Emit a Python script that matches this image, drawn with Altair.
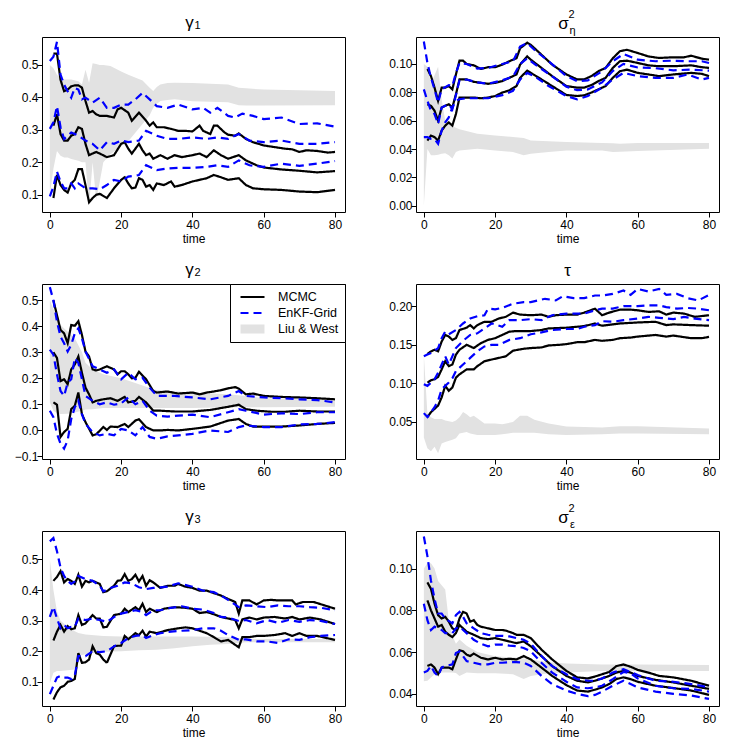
import altair as alt
import pandas as pd

METHODS = ["MCMC", "EnKF-Grid", "Liu & West"]
COLORS = ["#000000", "#0000ff", "#e2e2e2"]
DASHES = [[1, 0], [8, 5], [1, 0]]
WIDTHS = [2.2, 2.2, 9]
X_TICKS = [0, 20, 40, 60, 80]
BAND_COLOR = "#e2e2e2"

# ---------------- gamma_1 ----------------
G1_MCMC_HI = [(1,.535),(2,.535),(3,.454),(4,.419),(5,.424),(6,.434),(7,.437),(8,.437),(9,.43),(10,.389),(11,.353),(12,.358),(13,.348),(14,.343),(16,.343),(18,.338),(19,.363),(20,.368),(22,.353),(23,.328),(25,.353),(27,.328),(28,.313),(29,.323),(30,.308),(32,.308),(34,.303),(36,.297),(38,.297),(40,.295),(42,.313),(43,.297),(45,.287),(46,.313),(47,.313),(49,.292),(50,.285),(52,.282),(53,.289),(55,.272),(57,.262),(60,.252),(63,.247),(66,.242),(68,.24),(70,.232),(72,.237),(75,.235),(78,.23),(80,.232)]
G1_MCMC_MID = [(1,.313),(2,.348),(3,.287),(4,.267),(5,.267),(6,.282),(7,.287),(8,.308),(9,.303),(10,.257),(11,.222),(12,.227),(13,.232),(14,.227),(16,.216),(18,.222),(20,.257),(21,.262),(22,.242),(23,.227),(25,.257),(26,.237),(27,.222),(28,.227),(29,.211),(31,.222),(33,.211),(35,.222),(37,.216),(40,.222),(42,.227),(44,.216),(46,.237),(48,.222),(50,.211),(53,.222),(55,.206),(58,.191),(60,.184),(65,.178),(70,.174),(75,.169),(80,.173)]
G1_MCMC_LO = [(1,.09),(2,.161),(3,.13),(4,.115),(5,.107),(6,.135),(7,.146),(8,.179),(9,.179),(10,.13),(11,.077),(12,.09),(13,.1),(14,.103),(16,.09),(18,.12),(20,.146),(21,.154),(22,.135),(23,.12),(24,.122),(25,.151),(26,.146),(27,.125),(28,.13),(29,.115),(30,.135),(32,.13),(34,.141),(35,.125),(37,.13),(40,.141),(42,.146),(44,.151),(46,.161),(48,.154),(50,.146),(53,.151),(55,.13),(57,.12),(60,.117),(65,.115),(70,.11),(75,.108),(80,.115)]
G1_ENKF_HI = [(0,.512),(1,.525),(2,.571),(3,.47),(4,.439),(5,.419),(6,.399),(7,.429),(8,.424),(9,.394),(10,.399),(12,.384),(14,.399),(16,.368),(18,.368),(20,.378),(22,.378),(24,.394),(26,.414),(28,.394),(30,.373),(33,.368),(36,.378),(40,.363),(43,.368),(45,.353),(47,.368),(50,.343),(52,.338),(54,.35),(57,.343),(60,.333),(65,.338),(70,.318),(75,.32),(80,.31)]
G1_ENKF_MID = [(0,.303),(1,.323),(2,.373),(3,.308),(4,.272),(5,.282),(6,.292),(7,.287),(8,.282),(10,.267),(12,.257),(14,.237),(16,.262),(18,.257),(20,.267),(22,.262),(25,.267),(27,.297),(30,.282),(33,.272),(36,.272),(40,.277),(44,.272),(47,.277),(50,.272),(53,.287),(56,.267),(60,.262),(65,.267),(70,.257),(75,.257),(80,.262)]
G1_ENKF_LO = [(0,.095),(1,.125),(2,.171),(3,.141),(4,.12),(5,.12),(6,.135),(7,.12),(8,.135),(10,.12),(12,.12),(14,.117),(16,.13),(18,.146),(20,.141),(22,.156),(25,.161),(27,.191),(30,.176),(33,.181),(36,.183),(40,.183),(44,.186),(47,.191),(50,.186),(53,.206),(56,.191),(60,.186),(65,.196),(70,.189),(75,.196),(80,.204)]
G1_BAND_T = [0,1,2,3,4,5,6,8,9,10,11,12,13,14,15,17,20,22,26,28,29,30,31,33,35,40,50,53,55,60,80]
G1_BAND_HI = [.50,.49,.47,.46,.455,.455,.455,.45,.44,.485,.445,.505,.503,.50,.50,.497,.48,.47,.452,.43,.42,.432,.44,.444,.445,.444,.44,.43,.428,.424,.42]
G1_BAND_LO = [.10,.18,.235,.22,.215,.215,.21,.205,.20,.20,.065,.20,.085,.14,.20,.225,.25,.265,.318,.345,.368,.38,.389,.392,.394,.388,.385,.376,.375,.375,.376]

# ---------------- sigma^2_eta ----------------
SE_MCMC_HI = [(1,.0965),(2,.0914),(3,.0833),(4,.074),(5,.0833),(6,.0833),(7,.0844),(8,.0821),(9,.0926),(10,.1023),(11,.1023),(12,.1),(14,.099),(16,.0965),(18,.0977),(20,.0977),(22,.0995),(24,.1019),(25,.103),(26,.104),(27,.111),(29,.115),(30,.1135),(33,.1065),(36,.0995),(40,.0926),(43,.0891),(45,.0891),(47,.0914),(49,.0949),(51,.0972),(53,.104),(55,.109),(57,.11),(60,.1077),(63,.1053),(66,.1042),(70,.1047),(73,.1047),(75,.1058),(78,.1037),(80,.103)]
SE_MCMC_MID = [(1,.0716),(2,.0705),(3,.067),(4,.06),(5,.0693),(6,.0705),(7,.0716),(8,.0693),(9,.0786),(10,.0891),(12,.0891),(14,.0874),(16,.0867),(18,.086),(20,.0867),(22,.0879),(24,.0902),(26,.0926),(27,.0995),(29,.1053),(30,.103),(33,.0972),(36,.0914),(40,.0844),(43,.0833),(45,.0833),(47,.0851),(49,.0879),(51,.0902),(53,.0972),(55,.1019),(57,.1023),(60,.1007),(63,.099),(66,.0984),(70,.0984),(75,.099),(78,.0977),(80,.0972)]
SE_MCMC_LO = [(1,.046),(2,.0495),(3,.0484),(4,.046),(5,.053),(6,.0565),(7,.0588),(8,.0565),(9,.0647),(10,.0763),(12,.0763),(14,.0763),(16,.0758),(18,.0763),(20,.0774),(22,.0798),(24,.0814),(26,.0844),(27,.0902),(29,.0953),(30,.0937),(33,.0891),(36,.0844),(40,.0781),(43,.0774),(45,.0779),(47,.0798),(49,.0821),(51,.0844),(53,.0902),(55,.0949),(57,.096),(60,.0937),(63,.0926),(66,.0914),(70,.0926),(75,.0937),(78,.093),(80,.0914)]
SE_ENKF_HI = [(0,.1158),(1,.1007),(2,.0902),(3,.0821),(4,.0728),(5,.0821),(7,.0851),(8,.0844),(9,.0937),(10,.1007),(12,.1),(15,.0967),(18,.0972),(22,.1),(25,.1019),(27,.1123),(29,.1147),(31,.11),(35,.1019),(40,.0914),(43,.0879),(46,.0884),(50,.0949),(53,.1019),(56,.107),(60,.103),(65,.1019),(70,.1023),(74,.1019),(78,.1019),(80,.1007)]
SE_ENKF_MID = [(0,.0821),(1,.074),(2,.067),(3,.0647),(4,.0577),(5,.0693),(7,.0716),(8,.068),(9,.078),(10,.0885),(12,.089),(15,.087),(18,.086),(22,.0885),(25,.091),(27,.1),(29,.104),(31,.1),(35,.093),(40,.084),(43,.0815),(46,.082),(50,.087),(53,.095),(56,.1),(60,.0975),(65,.097),(70,.0955),(75,.096),(80,.0953)]
SE_ENKF_LO = [(0,.0484),(1,.0484),(2,.0472),(3,.047),(4,.0437),(5,.053),(6,.0588),(7,.0623),(8,.0693),(9,.074),(10,.0751),(12,.0758),(15,.0758),(18,.0758),(22,.078),(25,.081),(27,.089),(29,.0937),(31,.0914),(35,.0844),(40,.0774),(43,.075),(46,.0774),(50,.0833),(53,.089),(56,.0937),(60,.0914),(65,.0902),(70,.0902),(74,.0926),(78,.089),(80,.0902)]
SE_BAND_T = [0,1,2,3,4,5,6,7,8,9,10,15,20,25,28,30,35,40,50,53,55,60,80]
SE_BAND_HI = [.1,.098,.086,.092,.098,.075,.06,.058,.056,.055,.054,.0507,.0495,.0485,.0477,.046,.0455,.0449,.0442,.044,.0437,.0442,.0442]
SE_BAND_LO = [.0,.04,.0356,.0356,.036,.0367,.037,.0356,.0333,.0379,.039,.0402,.039,.0379,.0356,.0367,.0379,.039,.039,.0379,.038,.0386,.0402]

# ---------------- gamma_2 ----------------
G2_MCMC_HI = [(1,.5),(2,.443),(3,.386),(4,.373),(5,.335),(6,.405),(7,.402),(8,.42),(9,.367),(10,.303),(11,.284),(12,.234),(13,.23),(14,.234),(16,.246),(18,.234),(19,.215),(20,.227),(21,.227),(22,.215),(23,.2),(24,.202),(25,.225),(27,.196),(29,.151),(30,.145),(33,.149),(36,.141),(40,.145),(42,.138),(44,.145),(46,.149),(48,.154),(50,.161),(52,.166),(53,.16),(55,.138),(57,.141),(60,.132),(65,.128),(70,.126),(75,.123),(80,.119)]
G2_MCMC_MID = [(1,.3),(2,.278),(3,.189),(4,.196),(5,.177),(6,.234),(7,.253),(8,.284),(9,.221),(10,.164),(11,.138),(12,.107),(13,.113),(15,.119),(17,.123),(19,.113),(21,.128),(22,.107),(24,.113),(25,.128),(27,.107),(29,.075),(31,.075),(35,.072),(40,.072),(45,.078),(50,.09),(53,.098),(55,.081),(58,.075),(62,.071),(66,.071),(70,.075),(75,.072),(80,.072)]
G2_MCMC_LO = [(1,.107),(2,.098),(3,-.026),(4,-.007),(5,.005),(6,.081),(7,.094),(8,.145),(9,.062),(10,.031),(12,-.02),(13,-.016),(15,.012),(16,.001),(17,.014),(19,.012),(21,.024),(22,.012),(24,.037),(25,.042),(27,.012),(29,-.001),(31,-.001),(33,.001),(36,-.001),(40,.005),(45,.014),(50,.037),(53,.043),(55,.024),(57,.014),(60,.014),(65,.014),(70,.018),(75,.024),(80,.028)]
G2_ENKF_HI = [(0,.551),(1,.5),(2,.418),(3,.36),(4,.335),(5,.303),(6,.329),(7,.373),(8,.392),(9,.354),(10,.303),(12,.246),(14,.234),(16,.221),(18,.234),(20,.196),(22,.221),(24,.196),(26,.202),(28,.164),(30,.132),(35,.132),(40,.126),(45,.119),(50,.132),(53,.151),(55,.132),(60,.126),(65,.123),(70,.119),(75,.116),(80,.107)]
G2_ENKF_MID = [(0,.31),(1,.291),(2,.215),(3,.151),(4,.132),(5,.183),(6,.196),(7,.278),(8,.259),(9,.196),(10,.132),(12,.113),(14,.1),(16,.107),(18,.098),(20,.103),(22,.126),(24,.1),(26,.113),(28,.075),(30,.056),(33,.052),(36,.056),(40,.06),(45,.05),(50,.069),(53,.081),(55,.075),(60,.06),(65,.065),(70,.062),(75,.069),(80,.069)]
G2_ENKF_LO = [(0,.075),(1,.05),(2,-.014),(3,-.052),(4,-.071),(5,-.039),(6,.043),(7,.088),(8,.113),(9,.062),(10,.024),(12,-.007),(14,-.02),(16,-.014),(18,-.02),(20,.005),(22,-.001),(24,-.02),(26,.012),(28,-.026),(30,-.033),(33,-.024),(36,-.02),(40,-.014),(45,-.001),(50,-.007),(53,.012),(55,.018),(60,.012),(65,.012),(70,.022),(75,.024),(80,.031)]
G2_BAND_T = [0,1,2,3,5,7,9,10,12,15,20,25,29,30,35,40,50,55,60,80]
G2_BAND_HI = [.5,.468,.43,.405,.379,.354,.30,.26,.234,.215,.2,.177,.158,.155,.15,.145,.138,.132,.123,.119]
G2_BAND_LO = [.107,.075,.065,.062,.063,.068,.075,.08,.081,.085,.085,.085,.085,.085,.085,.085,.088,.088,.088,.09]

# ---------------- tau ----------------
TA_MCMC_HI = [(1,.1382),(2,.1416),(3,.1437),(4,.1416),(5,.1544),(6,.1629),(7,.1608),(8,.1565),(9,.1587),(10,.1693),(12,.1723),(13,.1757),(14,.1714),(15,.1757),(17,.18),(19,.18),(21,.1842),(23,.1864),(25,.1919),(27,.1893),(30,.1885),(33,.1893),(35,.1864),(37,.1885),(40,.1893),(43,.1893),(45,.1919),(48,.197),(50,.1885),(52,.1919),(55,.1957),(58,.1957),(60,.1949),(63,.1928),(66,.1936),(68,.1893),(70,.1919),(73,.1906),(76,.1864),(80,.1885)]
TA_MCMC_MID = [(1,.1011),(2,.1041),(3,.1054),(4,.1084),(5,.1182),(6,.1288),(7,.1224),(8,.1246),(9,.1374),(10,.1437),(12,.1501),(14,.1459),(16,.1523),(18,.1565),(20,.1587),(22,.1629),(24,.1672),(26,.168),(30,.168),(33,.1693),(35,.1714),(40,.1723),(45,.1744),(48,.1778),(50,.1749),(55,.1778),(60,.1791),(65,.18),(68,.1757),(70,.1766),(75,.1757),(80,.1749)]
TA_MCMC_LO = [(1,.0564),(2,.0628),(3,.067),(4,.0713),(5,.082),(6,.0969),(7,.0905),(8,.0947),(9,.1075),(10,.1118),(12,.1182),(14,.1182),(15,.1224),(17,.1288),(19,.131),(21,.1331),(23,.1352),(25,.1425),(28,.145),(30,.1459),(33,.1467),(35,.1493),(38,.1501),(40,.151),(43,.1535),(45,.1535),(48,.1565),(50,.1553),(53,.1565),(55,.1587),(58,.1595),(60,.1608),(65,.1629),(68,.1608),(70,.1621),(75,.1587),(78,.1587),(80,.1604)]
TA_ENKF_HI = [(0,.1352),(1,.1374),(2,.1395),(4,.1459),(5,.1587),(6,.1672),(7,.1638),(9,.1693),(11,.1778),(13,.1842),(15,.1872),(17,.1885),(18,.197),(20,.1962),(22,.1979),(25,.2034),(28,.2055),(30,.2055),(34,.2098),(37,.2077),(39,.2132),(42,.2106),(45,.2106),(48,.2141),(50,.2141),(53,.2162),(56,.2205),(58,.2149),(60,.2226),(63,.2192),(66,.2226),(68,.2149),(71,.2162),(74,.2106),(77,.2077),(80,.2149)]
TA_ENKF_MID = [(0,.099),(1,.0969),(2,.1011),(3,.1054),(4,.1139),(5,.1246),(6,.1352),(7,.1246),(9,.1459),(11,.1553),(13,.1629),(15,.165),(17,.1714),(19,.1778),(20,.1766),(22,.1736),(24,.1821),(27,.1821),(30,.1834),(33,.1821),(36,.1885),(40,.1906),(43,.1906),(45,.1906),(48,.1949),(50,.197),(53,.197),(56,.2004),(60,.2004),(63,.2013),(66,.2013),(68,.1991),(71,.197),(74,.1979),(77,.197),(80,.1949)]
TA_ENKF_LO = [(0,.0615),(1,.0564),(2,.0628),(3,.0692),(4,.0777),(5,.0926),(6,.0969),(7,.1011),(8,.1067),(9,.116),(11,.1246),(13,.1331),(15,.1416),(17,.148),(19,.1501),(21,.1501),(24,.1565),(27,.1587),(30,.1638),(33,.1663),(36,.1693),(40,.1706),(43,.1706),(45,.1736),(48,.1757),(50,.1808),(53,.18),(56,.1821),(60,.1842),(63,.1864),(66,.1851),(70,.1834),(73,.1864),(76,.1842),(80,.1821)]
TA_BAND_T = [0,1,2,3,4,5,6,8,9,10,11,12,13,14,15,17,20,22,25,27,29,31,35,40,50,55,60,80]
TA_BAND_HI = [.137,.061,.056,.054,.054,.054,.052,.05,.052,.056,.063,.06,.056,.058,.055,.048,.048,.047,.05,.058,.058,.053,.048,.044,.043,.0445,.0445,.0415]
TA_BAND_LO = [.03,.016,.012,.018,.0095,.022,.024,.027,.029,.035,.036,.037,.035,.034,.033,.033,.033,.034,.036,.036,.036,.036,.034,.033,.034,.035,.035,.034]

# ---------------- gamma_3 ----------------
G3_MCMC_HI = [(1,.43),(2,.443),(3,.462),(4,.425),(5,.436),(6,.43),(7,.42),(8,.45),(9,.411),(10,.43),(11,.425),(12,.43),(14,.42),(15,.393),(16,.396),(18,.414),(19,.43),(20,.432),(21,.452),(22,.43),(23,.436),(24,.45),(25,.428),(26,.446),(27,.414),(28,.432),(29,.425),(31,.407),(33,.414),(35,.414),(36,.42),(38,.411),(40,.407),(42,.398),(44,.398),(46,.39),(48,.382),(50,.371),(52,.361),(53,.323),(54,.366),(56,.366),(58,.353),(60,.366),(62,.368),(64,.366),(66,.366),(68,.366),(69,.353),(71,.361),(74,.361),(77,.35),(80,.339)]
G3_MCMC_MID = [(1,.235),(2,.264),(3,.286),(4,.264),(5,.282),(6,.272),(7,.275),(8,.318),(9,.286),(10,.291),(12,.318),(13,.307),(14,.307),(15,.278),(16,.28),(18,.318),(20,.323),(21,.339),(22,.328),(24,.344),(25,.334),(26,.355),(27,.328),(28,.339),(30,.328),(32,.339),(35,.344),(38,.342),(40,.339),(42,.325),(44,.328),(46,.321),(48,.312),(50,.307),(52,.302),(53,.275),(54,.304),(56,.31),(58,.304),(60,.31),(63,.312),(66,.307),(68,.312),(70,.304),(73,.31),(76,.304),(80,.289)]
G3_MCMC_LO = [(1,.042),(2,.066),(3,.082),(4,.087),(5,.1),(6,.103),(7,.109),(8,.194),(9,.162),(10,.164),(11,.173),(12,.216),(13,.194),(14,.189),(15,.173),(16,.162),(17,.189),(18,.216),(19,.218),(20,.218),(21,.25),(22,.239),(24,.259),(25,.253),(26,.267),(27,.248),(28,.264),(30,.259),(33,.269),(36,.275),(38,.278),(40,.275),(42,.267),(44,.259),(46,.246),(48,.232),(50,.237),(52,.221),(53,.213),(54,.246),(56,.246),(58,.25),(60,.25),(63,.253),(66,.259),(68,.25),(70,.259),(72,.25),(75,.25),(80,.237)]
G3_ENKF_HI = [(0,.559),(1,.57),(2,.527),(3,.473),(4,.446),(5,.43),(6,.42),(7,.428),(8,.446),(10,.436),(12,.43),(14,.414),(15,.396),(17,.407),(19,.414),(21,.425),(23,.422),(25,.409),(27,.403),(29,.407),(31,.409),(33,.411),(36,.422),(40,.411),(43,.398),(46,.393),(48,.382),(50,.368),(53,.344),(55,.35),(58,.347),(61,.344),(64,.35),(67,.347),(70,.347),(73,.344),(76,.342),(80,.334)]
G3_ENKF_MID = [(0,.312),(1,.345),(2,.307),(3,.275),(4,.286),(5,.275),(6,.28),(7,.28),(8,.307),(10,.302),(12,.307),(14,.302),(16,.296),(18,.312),(20,.323),(22,.328),(24,.334),(26,.328),(27,.318),(29,.334),(31,.334),(34,.342),(37,.347),(40,.339),(43,.336),(46,.325),(48,.312),(50,.31),(53,.299),(55,.302),(58,.291),(61,.302),(64,.293),(67,.302),(70,.296),(73,.302),(76,.299),(80,.289)]
G3_ENKF_LO = [(0,.06),(1,.087),(2,.114),(3,.119),(4,.114),(5,.114),(6,.109),(7,.121),(8,.184),(10,.184),(12,.2),(14,.197),(16,.2),(18,.216),(20,.227),(22,.243),(24,.25),(26,.253),(27,.243),(29,.253),(31,.259),(34,.264),(37,.267),(40,.269),(43,.275),(46,.275),(48,.267),(50,.253),(53,.237),(55,.239),(58,.232),(61,.232),(64,.227),(67,.239),(70,.237),(73,.246),(76,.25),(80,.253)]
G3_BAND_T = [0,1,2,3,5,7,8,10,15,20,25,30,35,40,45,50,55,80]
G3_BAND_HI = [.5,.4,.33,.3,.28,.265,.26,.255,.25,.248,.248,.248,.248,.248,.247,.246,.24,.24]
G3_BAND_LO = [.095,.13,.135,.135,.138,.14,.185,.19,.198,.2,.203,.205,.21,.216,.221,.224,.229,.229]

# ---------------- sigma^2_epsilon ----------------
SP_MCMC_HI = [(1,.0934),(2,.0903),(3,.0832),(4,.0777),(5,.0761),(6,.0769),(7,.0746),(8,.0714),(9,.0706),(10,.0761),(11,.0793),(12,.0785),(13,.0746),(14,.0753),(15,.073),(16,.0722),(18,.0714),(20,.0706),(22,.0706),(23,.0703),(25,.0691),(26,.0683),(28,.0683),(30,.0667),(33,.0612),(36,.0565),(40,.051),(43,.0479),(46,.0474),(48,.0483),(50,.0494),(52,.0505),(54,.0533),(56,.0541),(58,.053),(60,.0515),(63,.0502),(66,.0486),(70,.0479),(75,.0463),(80,.0439)]
SP_MCMC_MID = [(1,.0848),(2,.08),(3,.0761),(4,.0722),(5,.073),(6,.0698),(7,.0683),(8,.0672),(9,.0691),(10,.073),(11,.0714),(12,.0698),(14,.0683),(16,.0667),(18,.0662),(20,.0667),(22,.0659),(24,.0651),(26,.0643),(28,.0651),(30,.0628),(33,.0581),(36,.0533),(40,.0486),(43,.0463),(46,.0455),(48,.0463),(50,.0474),(52,.0486),(54,.0502),(56,.051),(58,.0502),(60,.0486),(65,.0467),(70,.0455),(75,.0439),(80,.0424)]
SP_MCMC_LO = [(1,.0534),(2,.0541),(3,.0526),(4,.0494),(5,.0526),(6,.0526),(7,.0526),(8,.0518),(9,.0565),(10,.0609),(11,.0604),(12,.0588),(13,.0581),(14,.0593),(16,.0573),(18,.0565),(20,.0573),(22,.0565),(24,.0568),(26,.0565),(28,.0581),(30,.0565),(33,.0526),(36,.0486),(40,.0442),(43,.0416),(46,.0411),(48,.042),(50,.0431),(52,.0447),(54,.0471),(56,.0479),(58,.0471),(60,.0458),(65,.0439),(70,.0428),(75,.0416),(80,.0395)]
SP_ENKF_HI = [(0,.1154),(1,.106),(2,.0942),(3,.0855),(4,.0785),(5,.0785),(6,.0761),(8,.0738),(9,.0777),(10,.0793),(11,.0769),(12,.0738),(14,.0714),(16,.0691),(18,.0683),(20,.0678),(22,.0678),(24,.0675),(26,.0667),(28,.0659),(30,.064),(33,.0581),(36,.0533),(40,.0494),(43,.0471),(46,.0463),(48,.0463),(50,.0474),(53,.0502),(56,.0518),(58,.0505),(60,.049),(65,.0463),(70,.0458),(75,.0447),(80,.0431)]
SP_ENKF_MID = [(0,.0832),(1,.0753),(2,.0706),(3,.0722),(4,.0714),(5,.0706),(6,.0691),(8,.0691),(9,.0714),(10,.0722),(12,.0691),(14,.0659),(16,.064),(18,.0628),(20,.0636),(22,.0636),(24,.0631),(26,.0628),(28,.062),(30,.0604),(33,.0549),(36,.0502),(40,.0458),(43,.0431),(46,.0427),(48,.0431),(50,.0439),(53,.0471),(56,.0505),(58,.0499),(60,.0474),(65,.0439),(70,.0427),(75,.0424),(80,.0411)]
SP_ENKF_LO = [(0,.0502),(1,.051),(2,.0534),(3,.0502),(4,.0486),(5,.0526),(6,.0534),(8,.0541),(9,.0596),(10,.0604),(11,.0581),(12,.0557),(14,.0549),(16,.0541),(18,.0541),(20,.0549),(22,.0549),(24,.0552),(26,.0552),(28,.0549),(30,.0534),(33,.0486),(36,.0447),(40,.0416),(43,.04),(46,.0389),(48,.0395),(50,.0411),(53,.0439),(56,.0463),(58,.0447),(60,.0431),(65,.0411),(70,.04),(75,.0392),(80,.0376)]
SP_BAND_T = [0,1,2,3,4,5,6,7,8,9,10,12,15,20,25,28,30,35,40,50,60,80]
SP_BAND_HI = [.1,.1025,.1025,.1,.094,.092,.09,.075,.068,.064,.066,.063,.06,.058,.0575,.057,.0565,.0552,.0546,.0541,.0541,.0538]
SP_BAND_LO = [.046,.0463,.0479,.0494,.05,.0502,.0502,.0502,.0502,.05,.0486,.0502,.0499,.0499,.0494,.0471,.0486,.0499,.0502,.051,.051,.051]

W, H = 303, 175
XDOM = [-2.2, 82.8]
FONT = "Liberation Sans"


def lines_df(method, series):
    rows = []
    for q, pairs in series:
        for t, v in pairs:
            rows.append({"t": t, "v": v, "method": method, "q": q})
    return pd.DataFrame(rows)


def make_panel(mcmc, enkf, bt, blo, bhi, ydom, yticks, yfmt, title_parts, show_legend):
    xs = alt.Scale(domain=XDOM, nice=False, zero=False)
    ys = alt.Scale(domain=ydom, nice=False, zero=False)
    xax = alt.Axis(values=X_TICKS, title="time", format="d")
    yax = alt.Axis(values=yticks, format=yfmt, title=None)

    band = alt.Chart(pd.DataFrame({"t": bt, "lo": blo, "hi": bhi})).mark_area(
        color=BAND_COLOR, opacity=1
    ).encode(
        x=alt.X("t:Q", scale=xs, axis=xax),
        y=alt.Y("lo:Q", scale=ys, axis=yax),
        y2="hi:Q",
    )

    if show_legend:
        leg = alt.Legend(
            orient="top-right", offset=0, title=None, strokeColor="black",
            fillColor="white", padding=6, symbolType="stroke", symbolSize=576,
            clipHeight=14, labelFontSize=12.5, labelFont=FONT, labelColor="black",
            rowPadding=2, labelOffset=9, cornerRadius=0,
        )
    else:
        leg = None

    enc = dict(
        x=alt.X("t:Q", scale=xs, axis=xax),
        y=alt.Y("v:Q", scale=ys, axis=yax),
        color=alt.Color("method:N", scale=alt.Scale(domain=METHODS, range=COLORS), legend=leg),
        strokeDash=alt.StrokeDash("method:N", scale=alt.Scale(domain=METHODS, range=DASHES), legend=leg),
        strokeWidth=alt.StrokeWidth("method:N", scale=alt.Scale(type="ordinal", domain=METHODS, range=WIDTHS), legend=leg),
        detail="q:N",
    )
    l_mcmc = alt.Chart(lines_df("MCMC", mcmc)).mark_line(interpolate="linear").encode(**enc)
    l_enkf = alt.Chart(lines_df("EnKF-Grid", enkf)).mark_line(interpolate="linear").encode(**enc)

    texts = []
    for s, dx, dy, size in title_parts:
        texts.append(
            alt.Chart(pd.DataFrame({"s": [s]})).mark_text(
                font=FONT, fontSize=size, color="black", align="center", baseline="alphabetic"
            ).encode(text="s:N", x=alt.value(W / 2 + dx), y=alt.value(dy))
        )
    return alt.layer(band, l_mcmc, l_enkf, *texts).properties(width=W, height=H)


p1 = make_panel(
    [("hi", G1_MCMC_HI), ("mid", G1_MCMC_MID), ("lo", G1_MCMC_LO)],
    [("hi", G1_ENKF_HI), ("mid", G1_ENKF_MID), ("lo", G1_ENKF_LO)],
    G1_BAND_T, G1_BAND_LO, G1_BAND_HI,
    [0.047, 0.586], [0.1, 0.2, 0.3, 0.4, 0.5], ".1f",
    [("γ", -4, -9, 17), ("1", 4, -8, 11)], False)
p2 = make_panel(
    [("hi", SE_MCMC_HI), ("mid", SE_MCMC_MID), ("lo", SE_MCMC_LO)],
    [("hi", SE_ENKF_HI), ("mid", SE_ENKF_MID), ("lo", SE_ENKF_LO)],
    SE_BAND_T, SE_BAND_LO, SE_BAND_HI,
    [-0.0044, 0.119], [0.0, 0.02, 0.04, 0.06, 0.08, 0.10], ".2f",
    [("σ", -4, -8, 17), ("2", 4, -19, 11), ("η", 5, -3, 11)], False)
p3 = make_panel(
    [("hi", G2_MCMC_HI), ("mid", G2_MCMC_MID), ("lo", G2_MCMC_LO)],
    [("hi", G2_ENKF_HI), ("mid", G2_ENKF_MID), ("lo", G2_ENKF_LO)],
    G2_BAND_T, G2_BAND_LO, G2_BAND_HI,
    [-0.111, 0.563], [-0.1, 0.0, 0.1, 0.2, 0.3, 0.4, 0.5], ".1f",
    [("γ", -4, -9, 17), ("2", 4, -8, 11)], True)
p4 = make_panel(
    [("hi", TA_MCMC_HI), ("mid", TA_MCMC_MID), ("lo", TA_MCMC_LO)],
    [("hi", TA_ENKF_HI), ("mid", TA_ENKF_MID), ("lo", TA_ENKF_LO)],
    TA_BAND_T, TA_BAND_LO, TA_BAND_HI,
    [0.002, 0.229], [0.05, 0.10, 0.15, 0.20], ".2f",
    [("τ", 0, -8, 17)], False)
p5 = make_panel(
    [("hi", G3_MCMC_HI), ("mid", G3_MCMC_MID), ("lo", G3_MCMC_LO)],
    [("hi", G3_ENKF_HI), ("mid", G3_ENKF_MID), ("lo", G3_ENKF_LO)],
    G3_BAND_T, G3_BAND_LO, G3_BAND_HI,
    [0.021, 0.593], [0.1, 0.2, 0.3, 0.4, 0.5], ".1f",
    [("γ", -4, -9, 17), ("3", 4, -8, 11)], False)
p6 = make_panel(
    [("hi", SP_MCMC_HI), ("mid", SP_MCMC_MID), ("lo", SP_MCMC_LO)],
    [("hi", SP_ENKF_HI), ("mid", SP_ENKF_MID), ("lo", SP_ENKF_LO)],
    SP_BAND_T, SP_BAND_LO, SP_BAND_HI,
    [0.0342, 0.118], [0.04, 0.06, 0.08, 0.10], ".2f",
    [("σ", -4, -8, 17), ("2", 4, -19, 11), ("ε", 5, -3, 11)], False)

chart = alt.concat(
    p1, p2, p3, p4, p5, p6, columns=2,
    spacing={"row": 72, "column": 71}, bounds="flush",
).resolve_scale(
    color="independent", strokeDash="independent", strokeWidth="independent"
).resolve_legend(
    color="independent", strokeDash="independent", strokeWidth="independent"
).properties(
    padding={"left": 5, "top": 0, "right": 5, "bottom": 0}
).configure_view(
    stroke="black", strokeWidth=1
).configure_axis(
    labelFont=FONT, labelFontSize=12, labelColor="black", tickColor="black",
    tickSize=5, domain=False, grid=False, titleFont=FONT, titleFontSize=12,
    titleFontWeight="normal", titleColor="black",
).configure_axisY(
    labelPadding=-1
).configure_axisX(
    labelPadding=2, titlePadding=3
)

chart.save("out.html", embed_options={"renderer": "svg", "actions": False})
